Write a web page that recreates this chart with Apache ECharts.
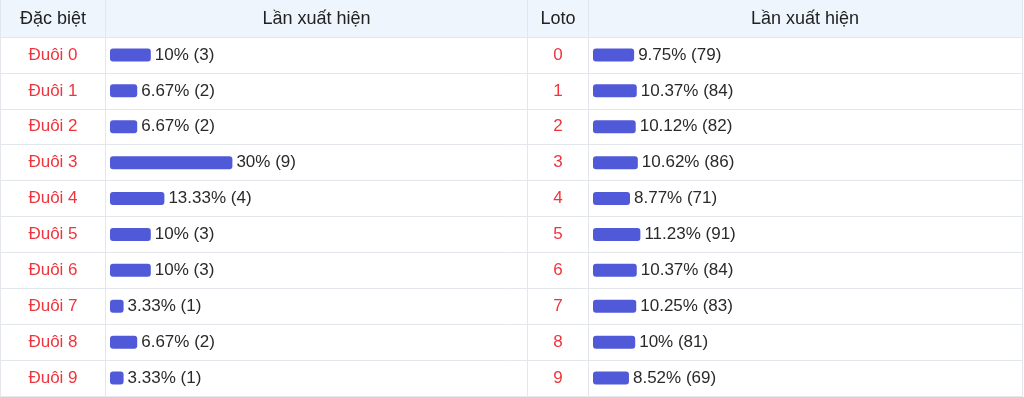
<!DOCTYPE html>
<html>
<head>
<meta charset="utf-8">
<script src="https://cdn.jsdelivr.net/npm/echarts@6/dist/echarts.min.js"></script>
<style>
  html, body { margin: 0; padding: 0; background: #fff; }
  #chart { width: 1024px; height: 397px; }
</style>
</head>
<body>
<div id="chart"></div>
<script>
// column headers
var headers = ['Đặc biệt', 'Lần xuất hiện', 'Loto', 'Lần xuất hiện'];
// left table: đặc biệt tails
var dbLabels = ['Đuôi 0', 'Đuôi 1', 'Đuôi 2', 'Đuôi 3', 'Đuôi 4', 'Đuôi 5', 'Đuôi 6', 'Đuôi 7', 'Đuôi 8', 'Đuôi 9'];
var dbPct = [10, 6.67, 6.67, 30, 13.33, 10, 10, 3.33, 6.67, 3.33];
var dbCount = [3, 2, 2, 9, 4, 3, 3, 1, 2, 1];
// right table: loto
var lotoLabels = ['0', '1', '2', '3', '4', '5', '6', '7', '8', '9'];
var lotoPct = [9.75, 10.37, 10.12, 10.62, 8.77, 11.23, 10.37, 10.25, 10, 8.52];
var lotoCount = [79, 84, 82, 86, 71, 91, 84, 83, 81, 69];

var FONT = '"Liberation Sans", Arial, sans-serif';
var LINE = '#e3e7ec';
var RED = '#f0343c';
var BLUE = '#5059d8';
var TOP = 37, BOTTOM = 1;

var chart = echarts.init(document.getElementById('chart'));

function barSeries(idx, pct, count) {
  return {
    type: 'bar',
    xAxisIndex: idx,
    yAxisIndex: idx,
    data: pct,
    barWidth: 13,
    silent: true,
    itemStyle: { color: BLUE, borderRadius: 3 },
    label: {
      show: true,
      position: 'right',
      distance: 4,
      color: '#2a2a2a',
      fontSize: 17,
      fontFamily: FONT,
      formatter: function (p) { return p.value + '% (' + count[p.dataIndex] + ')'; }
    }
  };
}

function catAxis(idx, labels, margin, color, showSplit) {
  return {
    type: 'category',
    gridIndex: idx,
    data: labels,
    inverse: true,
    axisLine: { show: false },
    axisTick: { show: false },
    axisLabel: {
      show: !showSplit,
      margin: margin,
      align: 'center',
      color: color,
      fontSize: 17,
      fontFamily: FONT
    },
    splitLine: { show: showSplit, lineStyle: { color: LINE, width: 1 } }
  };
}

var headerX = [53, 316.5, 558, 805];
var vLines = [0.5, 105.5, 527.5, 588.5, 1022.5];

var option = {
  animation: false,
  grid: [
    { left: 1, right: 2, top: TOP, bottom: BOTTOM },
    { left: 110, width: 408, top: TOP, bottom: BOTTOM },
    { left: 593, width: 422, top: TOP, bottom: BOTTOM }
  ],
  xAxis: [
    { type: 'value', gridIndex: 0, show: false, min: 0, max: 1 },
    { type: 'value', gridIndex: 1, show: false, min: 0, max: 100 },
    { type: 'value', gridIndex: 2, show: false, min: 0, max: 100 }
  ],
  yAxis: [
    catAxis(0, dbLabels, 0, RED, true),
    catAxis(1, dbLabels, 57, RED, false),
    catAxis(2, lotoLabels, 35, RED, false)
  ],
  graphic: [
    { type: 'rect', z: -10, shape: { x: 1, y: 0, width: 1021, height: TOP }, style: { fill: '#eef5fd' } },
    { type: 'line', z: 10, shape: { x1: 0, y1: 37.5, x2: 1023, y2: 37.5 }, style: { stroke: LINE, lineWidth: 1 } },
    { type: 'line', z: 10, shape: { x1: 0, y1: 396.5, x2: 1023, y2: 396.5 }, style: { stroke: LINE, lineWidth: 1 } }
  ].concat(vLines.map(function (x) {
    return { type: 'line', z: 10, shape: { x1: x, y1: 0, x2: x, y2: 397 }, style: { stroke: LINE, lineWidth: 1 } };
  })).concat(headers.map(function (h, i) {
    return {
      type: 'text', z: 20, x: headerX[i], y: 19,
      style: { text: h, fill: '#222', fontSize: 18, fontFamily: FONT, align: 'center', verticalAlign: 'middle' }
    };
  })),
  series: [
    barSeries(1, dbPct, dbCount),
    barSeries(2, lotoPct, lotoCount)
  ]
};

chart.setOption(option);
</script>
</body>
</html>
